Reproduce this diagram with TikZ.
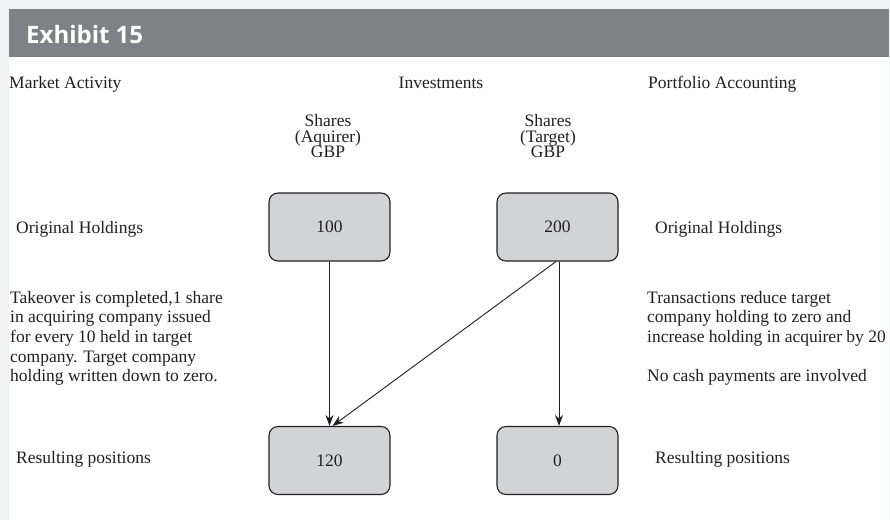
\documentclass[tikz,border=0pt]{standalone}
\usepackage{fontspec}
\setmainfont{Liberation Serif}
\newfontfamily\headfont{Open Sans}
\usetikzlibrary{arrows.meta}
\definecolor{pagebg}{HTML}{F1F2F4}
\definecolor{headbar}{HTML}{808184}
\definecolor{boxfill}{HTML}{D1D3D4}
\definecolor{ink}{HTML}{231F20}

\begin{document}
\begin{tikzpicture}[x=1pt,y=-1pt,
  font=\fontsize{17.5}{19.6}\selectfont, text=ink,
  label/.style={anchor=base west, inner sep=0pt},
  colhead/.style={anchor=north, inner sep=0pt, align=center,
    font=\fontsize{17.5}{15.8}\selectfont},
  para/.style={anchor=north west, inner sep=0pt, align=left},
  holding/.style={draw=ink, fill=boxfill, rounded corners=9pt,
    minimum width=121pt, minimum height=68pt, line width=1.1pt, inner sep=0pt},
  link/.style={draw=ink, line width=0.9pt, -{Stealth[length=11pt,width=8pt]}}]

  % page, panel and title bar
  \useasboundingbox (0,0) rectangle (890,520);
  \fill[pagebg] (0,0) rectangle (890,520);
  \fill[white] (9,57) rectangle (889,520);
  \fill[headbar] (9,9) rectangle (889,57);
  \node[anchor=base west, inner sep=0pt, text=white,
        font=\headfont\bfseries\fontsize{24}{29}\selectfont] (title) at (26,43) {Exhibit 15};

  % column headings
  \node[label] (market) at (9,88) {Market Activity};
  \node[anchor=base, inner sep=0pt] (invest) at (441,88) {Investments};
  \node[label] (portfolio) at (648,88) {Portfolio Accounting};

  \node[colhead] (acqhead) at (328,114) {Shares\\(Aquirer)\\GBP};
  \node[colhead] (tgthead) at (548,114) {Shares\\(Target)\\GBP};

  % holdings
  \node[holding] (b100) at (329.5,227) {100};
  \node[holding] (b200) at (557.5,227) {200};
  \node[holding] (b120) at (329.5,460.5) {120};
  \node[holding] (b0)   at (557.5,460.5) {0};

  % row labels
  \node[label] (origL) at (16,233) {Original Holdings};
  \node[label] (origR) at (655,233) {Original Holdings};
  \node[label] (resL)  at (16,463) {Resulting positions};
  \node[label] (resR)  at (655,463) {Resulting positions};

  % descriptions
  \node[para] (market txt) at (10,291)
    {Takeover is completed,1 share\\in acquiring company issued\\for every 10 held in target\\company. Target company\\holding written down to zero.};
  \node[para] (acct txt) at (647,291)
    {Transactions reduce target\\company holding to zero and\\increase holding in acquirer by 20\\[19.6pt]No cash payments are involved};

  % movements
  \draw[link] (b100.south) -- (b120.north);
  \draw[link] ([xshift=-1.5pt]b200.south) -- ([xshift=3pt]b120.north);
  \draw[link] ([xshift=1.5pt]b200.south) -- ([xshift=1.5pt]b0.north);
\end{tikzpicture}
\end{document}
